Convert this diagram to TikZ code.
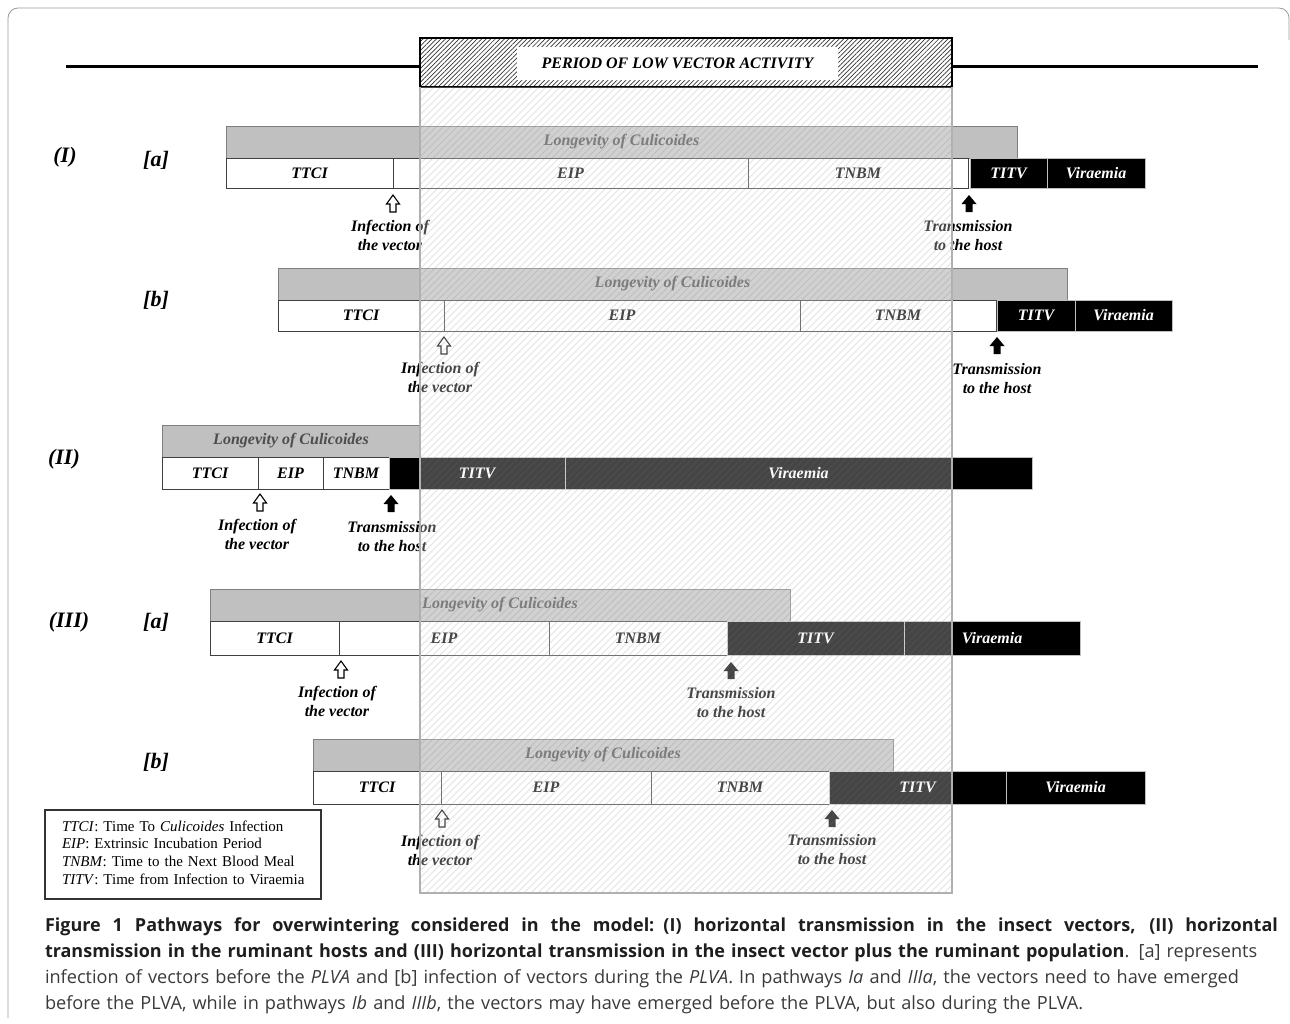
\documentclass[tikz,border=0pt]{standalone}
\usepackage{fontspec}
\setmainfont{Liberation Serif}
\newfontfamily\capfont{Open Sans}
\usetikzlibrary{patterns.meta}
\definecolor{lgfill}{HTML}{C0C0C0}
\definecolor{lgdraw}{HTML}{7F7F7F}
\definecolor{lgtext}{HTML}{4D4D4D}
\definecolor{framec}{HTML}{9A9A9A}
\definecolor{plvaedge}{HTML}{B0B0B0}
\definecolor{captext}{HTML}{3A3A3A}
\definecolor{capbold}{HTML}{1E1E1E}
\newcommand\mycell[7]{%
  \node[#2, minimum width={(#4)-(#3)}, minimum height={(#6)-(#5)}] (#1) at (#3,#5) {#7};}
\newcommand\capreg{\fontsize{18.15}{26}\selectfont\mdseries\color{captext}}
\newcommand\capbf{\fontsize{18}{26}\selectfont\bfseries\color{capbold}}
\tikzset{
  every node/.style={inner sep=0pt, outer sep=0pt},
  lbl/.style={font=\fontsize{16}{19}\selectfont\bfseries\itshape},
  cellbase/.style={anchor=north west, lbl, line width=1pt},
  wcell/.style={cellbase, draw=black!75, fill=white, text=black},
  bcell/.style={cellbase, draw=black!25, fill=black, text=white},
  lbar/.style={cellbase, draw=lgdraw, fill=lgfill, text=lgtext},
  rowlab/.style={font=\fontsize{22}{24}\selectfont\bfseries\itshape},
  notelab/.style={lbl, align=center},
  hatchline/.style={draw=black!55, draw opacity=0.2, line width=0.8pt},
  openarr/.pic={\draw[line width=1.1pt, fill=white, line join=miter]
     (-3,0) -- (-3,-8) -- (-6.5,-8) -- (0,-17) -- (6.5,-8) -- (3,-8) -- (3,0) -- cycle;},
  fullarr/.pic={\fill[black]
     (-3.5,0) -- (-3.5,-8) -- (-7.5,-8) -- (0,-17) -- (7.5,-8) -- (3.5,-8) -- (3.5,0) -- cycle;},
}
\begin{document}
\begin{tikzpicture}[x=1pt, y=-1pt]
\useasboundingbox (0,0) rectangle (1290,1023);
% outer frame
\draw[framec, line width=0.8pt, rounded corners=10pt] (8,1018) -- (8,8) -- (1289,8) -- (1289,40);

% header
\node[anchor=north west, draw, line width=2.5pt, minimum width=532, minimum height=49,
      pattern={Lines[angle=45,distance=3.2pt,line width=0.7pt]}, pattern color=black!80] (hdr) at (420,38) {};
\node[fill=white, minimum width=321, minimum height=33, lbl] (plva) at (677.5,63) {PERIOD OF LOW VECTOR ACTIVITY};
\coordinate (tl) at (66,66);
\coordinate (tr) at (1258,66);
\draw[line width=3pt] (tl) -- (tl -| hdr.west);
\draw[line width=3pt] (hdr.east |- tr) -- (tr);

% row labels
\node[rowlab] (rI) at (65,157) {(I)};
\node[rowlab] (rIa) at (156,160) {[a]};
\node[rowlab] (rIb) at (156,300) {[b]};
\node[rowlab] (rII) at (64,459) {(II)};
\node[rowlab] (rIII) at (69,622) {(III)};
\node[rowlab] (rIIIa) at (156,622) {[a]};
\node[rowlab] (rIIIb) at (156,762) {[b]};

% ---- Row Ia
\mycell{ialong}{lbar}{226}{1017}{126}{158}{Longevity of Culicoides}
\mycell{iattci}{wcell}{226}{393}{158}{188}{TTCI}
\mycell{iaeip}{wcell}{393}{748}{158}{188}{EIP}
\mycell{iatnbm}{wcell}{748}{968}{158}{188}{TNBM}
\mycell{iatitv}{bcell}{970}{1047}{158}{188}{TITV}
\mycell{iavir}{bcell}{1047}{1145}{158}{188}{Viraemia}
\coordinate (iainf) at (393,212);
\pic at (iainf) {openarr};
\node[notelab] (iainfl) at (390,235.5) {Infection of\\the vector};
\coordinate (iatr) at (969,212);
\pic at (iatr) {fullarr};
\node[notelab] (iatrl) at (968,235.5) {Transmission\\to the host};

% ---- Row Ib
\mycell{iblong}{lbar}{278}{1067}{268}{300}{Longevity of Culicoides}
\mycell{ibttci}{wcell}{278}{444}{300}{331}{TTCI}
\mycell{ibeip}{wcell}{444}{800}{300}{331}{EIP}
\mycell{ibtnbm}{wcell}{800}{996}{300}{331}{TNBM}
\mycell{ibtitv}{bcell}{997}{1075}{300}{331}{TITV}
\mycell{ibvir}{bcell}{1075}{1172}{300}{331}{Viraemia}
\coordinate (ibinf) at (444,354);
\pic at (ibinf) {openarr};
\node[notelab] (ibinfl) at (440,377.5) {Infection of\\the vector};
\coordinate (ibtr) at (997,354);
\pic at (ibtr) {fullarr};
\node[notelab] (ibtrl) at (997,378.5) {Transmission\\to the host};

% ---- Row II
\mycell{iilong}{lbar}{162}{420}{425}{457}{Longevity of Culicoides}
\mycell{iittci}{wcell}{162}{258}{457}{489}{TTCI}
\mycell{iieip}{wcell}{258}{323}{457}{489}{EIP}
\mycell{iitnbm}{wcell}{323}{389}{457}{489}{TNBM}
\mycell{iititv}{bcell}{389}{565}{457}{489}{TITV}
\mycell{iivir}{bcell}{565}{1032}{457}{489}{Viraemia}
\coordinate (iiinf) at (260,511);
\pic at (iiinf) {openarr};
\node[notelab] (iiinfl) at (257,534.5) {Infection of\\the vector};
\coordinate (iitr) at (391,512);
\pic at (iitr) {fullarr};
\node[notelab] (iitrl) at (392,536.5) {Transmission\\to the host};

% ---- Row IIIa
\mycell{iiialong}{lbar}{210}{790}{589}{621}{Longevity of Culicoides}
\mycell{iiiattci}{wcell}{210}{339}{621}{655}{TTCI}
\mycell{iiiaeip}{wcell}{339}{549}{621}{655}{EIP}
\mycell{iiiatnbm}{wcell}{549}{727}{621}{655}{TNBM}
\mycell{iiiatitv}{bcell}{727}{904}{621}{655}{TITV}
\mycell{iiiavir}{bcell}{904}{1080}{621}{655}{Viraemia}
\coordinate (iiiainf) at (341,678);
\pic at (iiiainf) {openarr};
\node[notelab] (iiiainfl) at (337,701.5) {Infection of\\the vector};
\coordinate (iiiatr) at (731,679);
\pic at (iiiatr) {fullarr};
\node[notelab] (iiiatrl) at (731,702.5) {Transmission\\to the host};

% ---- Row IIIb
\mycell{iiiblong}{lbar}{313}{893}{739}{771}{Longevity of Culicoides}
\mycell{iiibttci}{wcell}{313}{441}{771}{804}{TTCI}
\mycell{iiibeip}{wcell}{441}{651}{771}{804}{EIP}
\mycell{iiibtnbm}{wcell}{651}{829}{771}{804}{TNBM}
\mycell{iiibtitv}{bcell}{829}{1006}{771}{804}{TITV}
\mycell{iiibvir}{bcell}{1006}{1145}{771}{804}{Viraemia}
\coordinate (iiibinf) at (442,827);
\pic at (iiibinf) {openarr};
\node[notelab] (iiibinfl) at (440,850.5) {Infection of\\the vector};
\coordinate (iiibtr) at (832,827);
\pic at (iiibtr) {fullarr};
\node[notelab] (iiibtrl) at (832,849.5) {Transmission\\to the host};

% ---- PLVA overlay
\fill[white, fill opacity=0.27] (420,87) rectangle (952,893);
\begin{scope}
  \clip (420,87) rectangle (952,893);
  \foreach \c in {507,514,...,1852} {
    \draw[hatchline] (\c-893,893) -- (\c-87,87);
  }
\end{scope}
\draw[plvaedge, line width=1.2pt] (420,87) -- (420,893) -- (952,893) -- (952,87);

% ---- legend
\node[anchor=north west, draw=black!80, line width=2pt, minimum width=276, minimum height=89] (legend) at (45,810) {};
\node[anchor=north west, text width=260pt, font=\fontsize{15}{17.7}\selectfont, align=left] (legtext) at (62,820.5)
 {\textit{TTCI}: Time To \textit{Culicoides} Infection\\
  \textit{EIP}: Extrinsic Incubation Period\\
  \textit{TNBM}: Time to the Next Blood Meal\\
  \textit{TITV}: Time from Infection to Viraemia};

% ---- caption
\node[anchor=north west, text width=1240pt, align=left,
      font=\capfont\fontsize{18.15}{26}\selectfont] (cap) at (45,918)
 {\hbadness=10000\hbox to 1233pt{\capbf\spaceskip=0.26em plus 1fil\relax Figure 1 Pathways for overwintering considered in the model: (I) horizontal transmission in the insect vectors, (II) horizontal}\\
  {\capbf transmission in the ruminant hosts and (III) horizontal transmission in the insect vector plus the ruminant population}{\capreg. [a] represents}\\
  {\capreg infection of vectors before the \textit{PLVA} and [b] infection of vectors during the \textit{PLVA}. In pathways \textit{Ia} and \textit{IIIa}, the vectors need to have emerged}\\
  {\capreg before the PLVA, while in pathways \textit{Ib} and \textit{IIIb}, the vectors may have emerged before the PLVA, but also during the PLVA.}};
\end{tikzpicture}
\end{document}
